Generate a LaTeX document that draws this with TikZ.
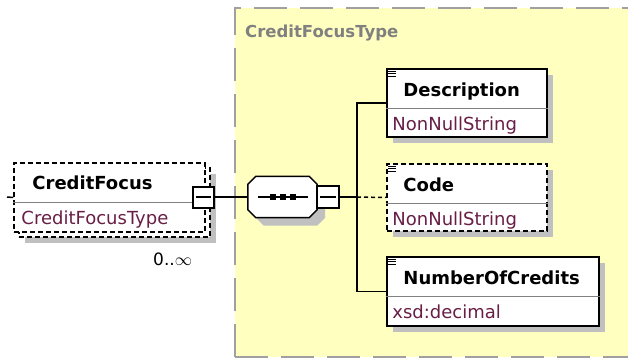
\documentclass[tikz,border=0pt]{standalone}
\usepackage{fontspec}
\setmainfont{DejaVu Sans}
\usetikzlibrary{shadows}
\definecolor{typebg}{RGB}{255,255,192}
\definecolor{typeline}{RGB}{160,160,160}
\definecolor{typelabel}{RGB}{128,128,128}
\definecolor{typetext}{RGB}{105,30,70}
\definecolor{shadowgray}{RGB}{192,192,192}
\tikzset{
    elembox/.style={draw, fill=white, line width=1.5pt, inner sep=0pt,
        drop shadow={shadow xshift=6pt, shadow yshift=-6pt, fill=shadowgray,
        opacity=1}},
    optbox/.style={elembox, dash pattern=on 5pt off 3pt},
    elemname/.style={anchor=base west, inner sep=0pt,
        font=\bfseries\fontsize{18}{20}\selectfont},
    elemtype/.style={anchor=base west, inner sep=0pt, text=typetext,
        font=\fontsize{18}{20}\selectfont},
    divider/.style={draw=gray, line width=1pt},
    conn/.style={line width=1.5pt},
    minusbox/.style={draw, fill=white, line width=2pt, minimum size=21pt,
        inner sep=0pt}
}

\begin{document}
\begin{tikzpicture}[x=1pt,y=-1pt]
	\useasboundingbox (0,0) rectangle (628,358);
	\clip (0,0) rectangle (628,358);

	% complex type area
	\fill[typebg] (235,8) rectangle (640,357);
	\draw[typeline, line width=2pt, dash pattern=on 33pt off 13pt]
		(235,357) -- (235,8) -- (640,8);
	\draw[typeline, line width=2pt, dash pattern=on 33pt off 13pt]
		(235,357) -- (640,357);
	\node[anchor=base west, inner sep=0pt, text=typelabel,
		font=\bfseries\fontsize{16.5}{20}\selectfont] (typename) at (245,38)
		{CreditFocusType};

	% root element (repeated)
	\node[optbox, minimum width=191pt, minimum height=69pt] (cfback)
		at (114.5,202.5) {};
	\node[draw, fill=white, line width=1.5pt, inner sep=0pt,
		dash pattern=on 5pt off 3pt, minimum width=191pt, minimum height=69pt]
		(cf) at (109.5,197.5) {};
	\draw[divider] ([yshift=-40pt]cf.north west) -- ([yshift=-40pt]cf.north east);
	\node[elemname] (cfname) at ([xshift=19pt, yshift=-27pt]cf.north west)
		{CreditFocus};
	\node[elemtype] (cftype) at ([xshift=8pt, yshift=-62pt]cf.north west)
		{CreditFocusType};
	\node[anchor=base west, inner sep=0pt, font=\fontsize{17}{20}\selectfont]
		(cfocc) at (153,265) {0..$\infty$};
	\node[minusbox] (cfminus) at (203,197) {};
	\draw[line width=1.5pt] ([xshift=4pt]cfminus.west) -- ([xshift=-4pt]cfminus.east);
	\coordinate (cfin) at (7,197);
	\draw[conn] (cfin) -- (cf.west);

	% sequence
	\node[minimum width=69pt, minimum height=41pt, inner sep=0pt] (seq)
		at (282.5,197) {};
	\fill[shadowgray, transform canvas={xshift=8pt, yshift=-8pt}]
		([xshift=8pt]seq.north west) -- ([xshift=-8pt]seq.north east)
		-- ([yshift=-8pt]seq.north east) -- ([yshift=8pt]seq.south east)
		-- ([xshift=-8pt]seq.south east) -- ([xshift=8pt]seq.south west)
		-- ([yshift=8pt]seq.south west) -- ([yshift=-8pt]seq.north west) -- cycle;
	\draw[fill=white, line width=1.5pt]
		([xshift=8pt]seq.north west) -- ([xshift=-8pt]seq.north east)
		-- ([yshift=-8pt]seq.north east) -- ([yshift=8pt]seq.south east)
		-- ([xshift=-8pt]seq.south east) -- ([xshift=8pt]seq.south west)
		-- ([yshift=8pt]seq.south west) -- ([yshift=-8pt]seq.north west) -- cycle;
	\draw[conn] (258,197) -- (308,197);
	\foreach \d in {273,283,293}
		\fill (\d-3,194) rectangle (\d+3,200);
	\node[minusbox, minimum size=22pt] (seqminus) at (328,197) {};
	\draw[line width=1.5pt] ([xshift=4pt]seqminus.west) -- ([xshift=-4pt]seqminus.east);
	\draw[conn] (cfminus) -- (seq);

	% child elements
	\node[elembox, minimum width=160pt, minimum height=68pt] (desc) at (467,103) {};
	\node[optbox, minimum width=160pt, minimum height=67pt] (code) at (467,197.5) {};
	\node[elembox, minimum width=212pt, minimum height=69pt] (nums) at (493,291.5) {};
	\foreach \e/\n/\t in {desc/Description/NonNullString,
		code/Code/NonNullString, nums/NumberOfCredits/xsd:decimal} {
		\draw[divider] ([yshift=-40pt]\e.north west) -- ([yshift=-40pt]\e.north east);
		\foreach \k in {3,5.5,8}
			\draw[line width=1pt] ([xshift=2pt, yshift=-\k pt]\e.north west)
				-- ++(8,0);
		\node[elemname] (\e name) at ([xshift=17pt, yshift=-28.5pt]\e.north west) {\n};
		\node[elemtype] (\e type) at ([xshift=6pt, yshift=-62pt]\e.north west) {\t};
	}

	\coordinate (fork) at (357,197);
	\draw[conn] (seqminus) -- (fork);
	\draw[conn] (desc.west) -| (fork);
	\draw[conn] (nums.west) -| (fork);
	\draw[conn, dash pattern=on 4pt off 3pt] (fork) -- (code.west);
\end{tikzpicture}
\end{document}
